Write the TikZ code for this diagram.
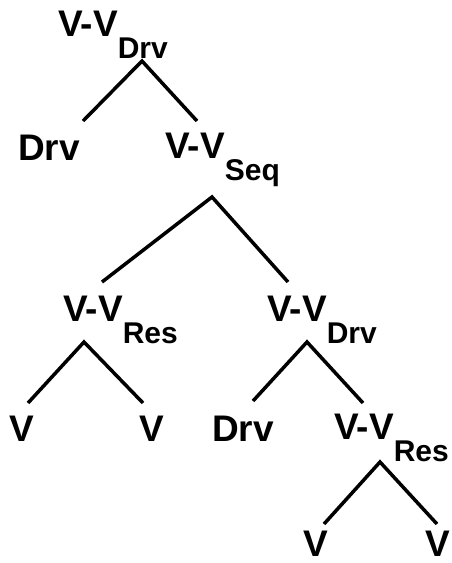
\documentclass[tikz,border=0pt]{standalone}
\usepackage{fontspec}
\setmainfont{Liberation Sans}
\newcommand{\vvsub}[1]{V-V\raisebox{-22pt}{\fontsize{30}{30}\selectfont #1}}
\tikzset{
	lab/.style={anchor=base west, inner sep=0pt, font=\fontsize{37}{37}\selectfont\bfseries},
	ast/.style={line width=3.5pt}
}
\begin{document}
\begin{tikzpicture}[x=1pt, y=-1pt]
	\useasboundingbox (0,0) rectangle (451,563);
	% Knoten
	\node[lab] (root) at (58,36) {\vvsub{Drv}};
	\node[lab] (drvA) at (18,160) {Drv};
	\node[lab] (seq) at (165,158) {\vvsub{Seq}};
	\node[lab] (resA) at (63,321) {\vvsub{Res}};
	\node[lab] (drvB) at (267,321) {\vvsub{Drv}};
	\node[lab] (vA) at (9,441) {V};
	\node[lab] (vB) at (139,441) {V};
	\node[lab] (drvC) at (212,441) {Drv};
	\node[lab] (resB) at (334,439) {\vvsub{Res}};
	\node[lab] (vC) at (303,556) {V};
	\node[lab] (vD) at (425,556) {V};
	% Verzweigungen
	\coordinate (root-top) at (142,61);
	\coordinate (root-l) at (83,121);
	\coordinate (root-r) at (197,121);
	\coordinate (seq-top) at (212,197);
	\coordinate (seq-l) at (102,282);
	\coordinate (seq-r) at (288,282);
	\coordinate (resA-top) at (84,342);
	\coordinate (resA-l) at (28,403);
	\coordinate (resA-r) at (143,403);
	\coordinate (drvB-top) at (307,342);
	\coordinate (drvB-l) at (253,401);
	\coordinate (drvB-r) at (363,403);
	\coordinate (resB-top) at (380,462);
	\coordinate (resB-l) at (324,524);
	\coordinate (resB-r) at (437,524);
	\draw[ast] (root-l) -- (root-top) -- (root-r);
	\draw[ast] (seq-l) -- (seq-top) -- (seq-r);
	\draw[ast] (resA-l) -- (resA-top) -- (resA-r);
	\draw[ast] (drvB-l) -- (drvB-top) -- (drvB-r);
	\draw[ast] (resB-l) -- (resB-top) -- (resB-r);
\end{tikzpicture}
\end{document}
